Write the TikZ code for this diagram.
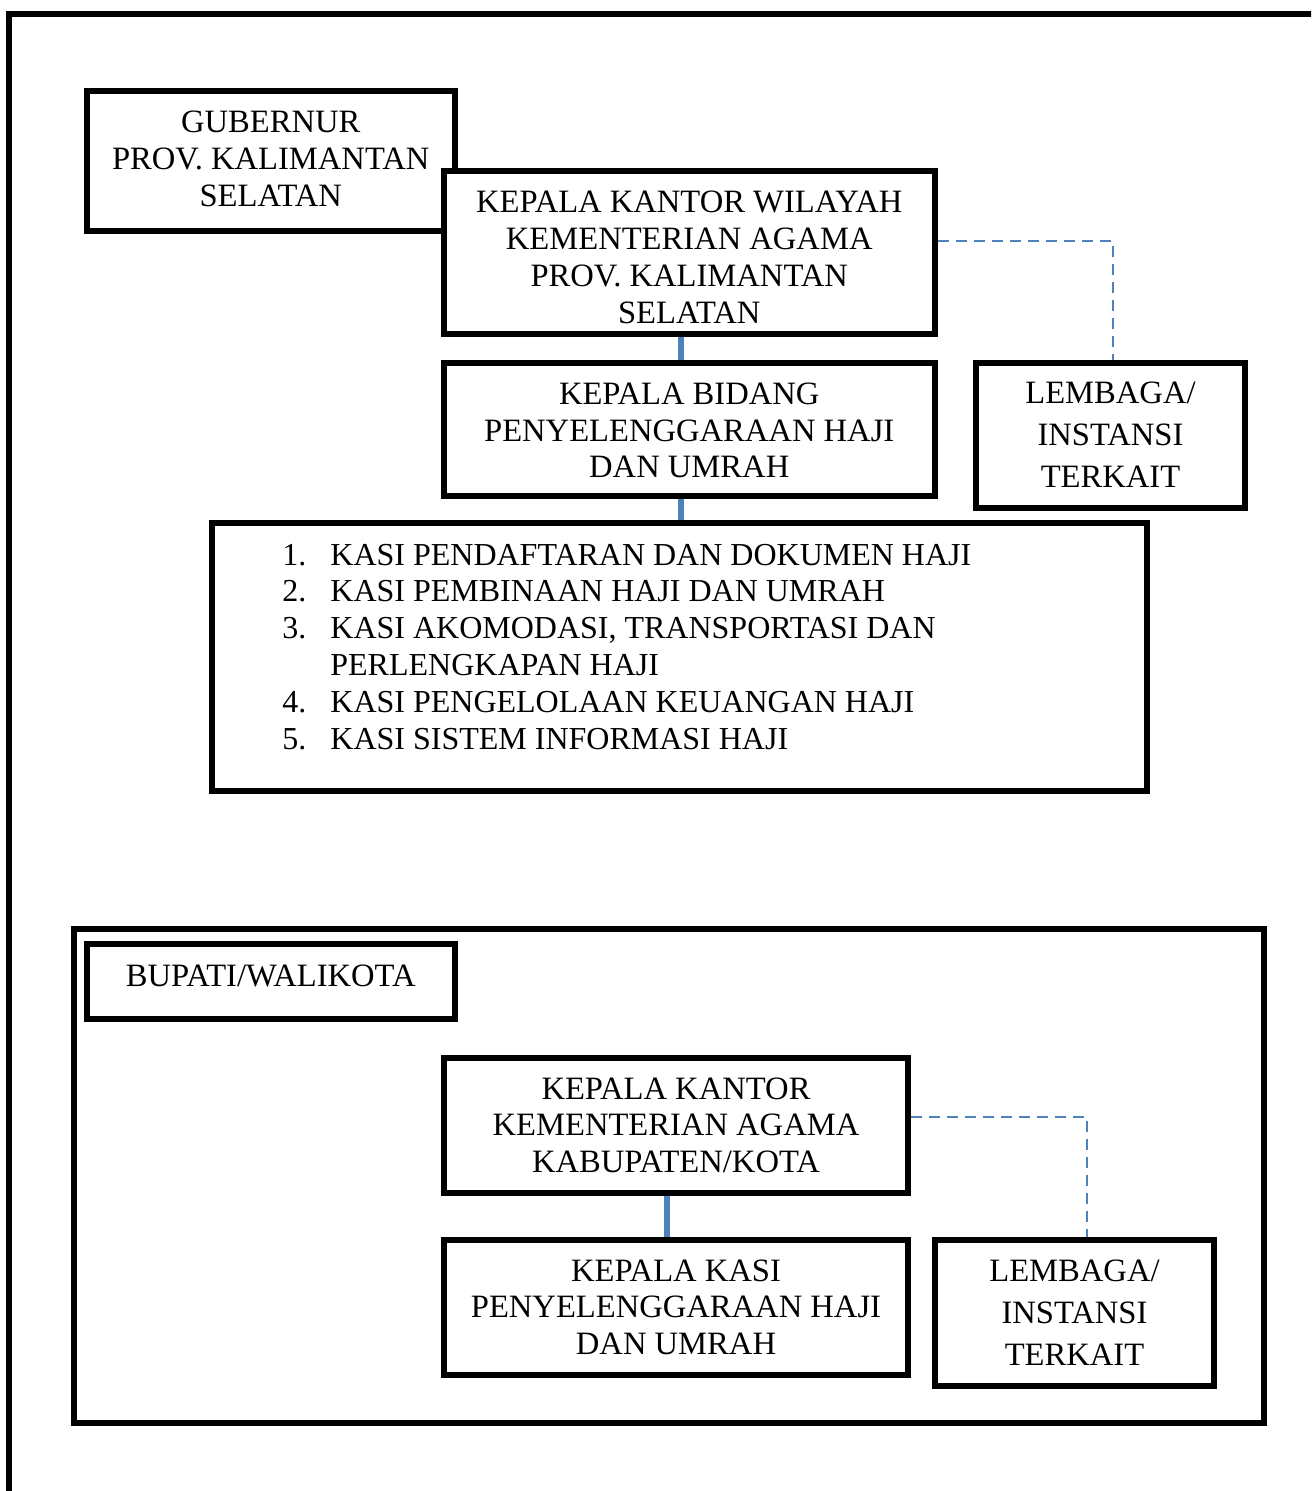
\documentclass[tikz,border=0pt]{standalone}
\usepackage{fontspec}
\setmainfont{Liberation Serif}
\definecolor{linkblue}{HTML}{4F81BD}
\tikzset{
  box/.style={draw, line width=3pt, fill=white, inner sep=0pt},
  txt/.style={anchor=base, inner sep=0pt, font=\fontsize{16.3}{18.4}\selectfont},
  txtlist/.style={anchor=base west, inner sep=0pt, font=\fontsize{16}{18.4}\selectfont},
  txtwide/.style={anchor=base, inner sep=0pt, font=\fontsize{16.3}{21}\selectfont},
  conn/.style={draw=linkblue, line width=3.4pt},
  rel/.style={draw=linkblue, line width=1pt, dash pattern=on 5.5pt off 3.5pt},
  frame/.style={draw, line width=3pt}
}
\newcommand{\ctab}[1]{\begin{tabular}[t]{@{}c@{}}#1\end{tabular}}
\begin{document}
\begin{tikzpicture}[x=0.5pt, y=-0.5pt]
\useasboundingbox (0,0) rectangle (1311,1491);
\clip (0,0) rectangle (1311,1491);
% outer page frame (runs beyond right and bottom edge)
\draw[frame] (9,1600) -- (9,14) -- (1400,14);
% inner frame for kabupaten level
\draw[frame] (73.5,929) rectangle (1263.5,1423);

% ---- province level boxes
\node[box, minimum width=184.25pt, minimum height=70pt] (gub) at (270.75,161) {};
\node[box, minimum width=245.75pt, minimum height=81.75pt] (kanwil) at (689.25,252.75) {};
\node[box, minimum width=245.75pt, minimum height=66.75pt] (kabid) at (689.25,429.75) {};
\node[box, minimum width=134.5pt, minimum height=72.25pt] (lem1) at (1110.5,435.75) {};
\node[box, minimum width=467.75pt, minimum height=133.75pt] (list) at (679.25,656.75) {};

% ---- kabupaten level boxes
\node[box, minimum width=184.25pt, minimum height=37.75pt] (bup) at (270.75,981.25) {};
\node[box, minimum width=232pt, minimum height=67.5pt] (kankem) at (676,1125.5) {};
\node[box, minimum width=232pt, minimum height=67.5pt] (kasi) at (676,1307.5) {};
\node[box, minimum width=139.5pt, minimum height=73pt] (lem2) at (1074.5,1313) {};

% ---- texts
\node[txt] (gubt) at (270.75,133) {\ctab{GUBERNUR\\PROV. KALIMANTAN\\SELATAN}};
\node[txt] (kanwilt) at (689.25,212.7) {\ctab{KEPALA KANTOR WILAYAH\\KEMENTERIAN AGAMA\\PROV. KALIMANTAN\\SELATAN}};
\node[txt] (kabidt) at (689.25,404.3) {\ctab{KEPALA BIDANG\\PENYELENGGARAAN HAJI\\DAN UMRAH}};
\node[txtwide] (lem1t) at (1110.5,404) {\ctab{LEMBAGA/\\INSTANSI\\TERKAIT}};
\node[txtlist] (listt) at (282,565) {\begin{tabular}[t]{@{}l@{}l@{}}
\makebox[24pt][l]{1.} & KASI PENDAFTARAN DAN DOKUMEN HAJI\\
\makebox[24pt][l]{2.} & KASI PEMBINAAN HAJI DAN UMRAH\\
\makebox[24pt][l]{3.} & KASI AKOMODASI, TRANSPORTASI DAN\\
 & PERLENGKAPAN HAJI\\
\makebox[24pt][l]{4.} & KASI PENGELOLAAN KEUANGAN HAJI\\
\makebox[24pt][l]{5.} & KASI SISTEM INFORMASI HAJI
\end{tabular}};
\node[txt] (bupt) at (270.75,986) {BUPATI/WALIKOTA};
\node[txt] (kankemt) at (676,1099) {\ctab{KEPALA KANTOR\\KEMENTERIAN AGAMA\\KABUPATEN/KOTA}};
\node[txt] (kasit) at (676,1281) {\ctab{KEPALA KASI\\PENYELENGGARAAN HAJI\\DAN UMRAH}};
\node[txtwide] (lem2t) at (1074.5,1281.7) {\ctab{LEMBAGA/\\INSTANSI\\TERKAIT}};

% ---- connectors
\draw[conn] ([xshift=-4.125pt]kanwil.south) -- ([xshift=-4.125pt]kabid.north);
\draw[conn] ([xshift=-4.125pt]kabid.south) -- ([xshift=-4.125pt]kabid.south |- list.north);
\draw[conn] ([xshift=-4.5pt]kankem.south) -- ([xshift=-4.5pt]kasi.north);
\draw[rel] ([yshift=6pt]kanwil.east) -| ([xshift=1.25pt]lem1.north);
\draw[rel] ([yshift=4.25pt]kankem.east) -| ([xshift=6.25pt]lem2.north);
\end{tikzpicture}
\end{document}
